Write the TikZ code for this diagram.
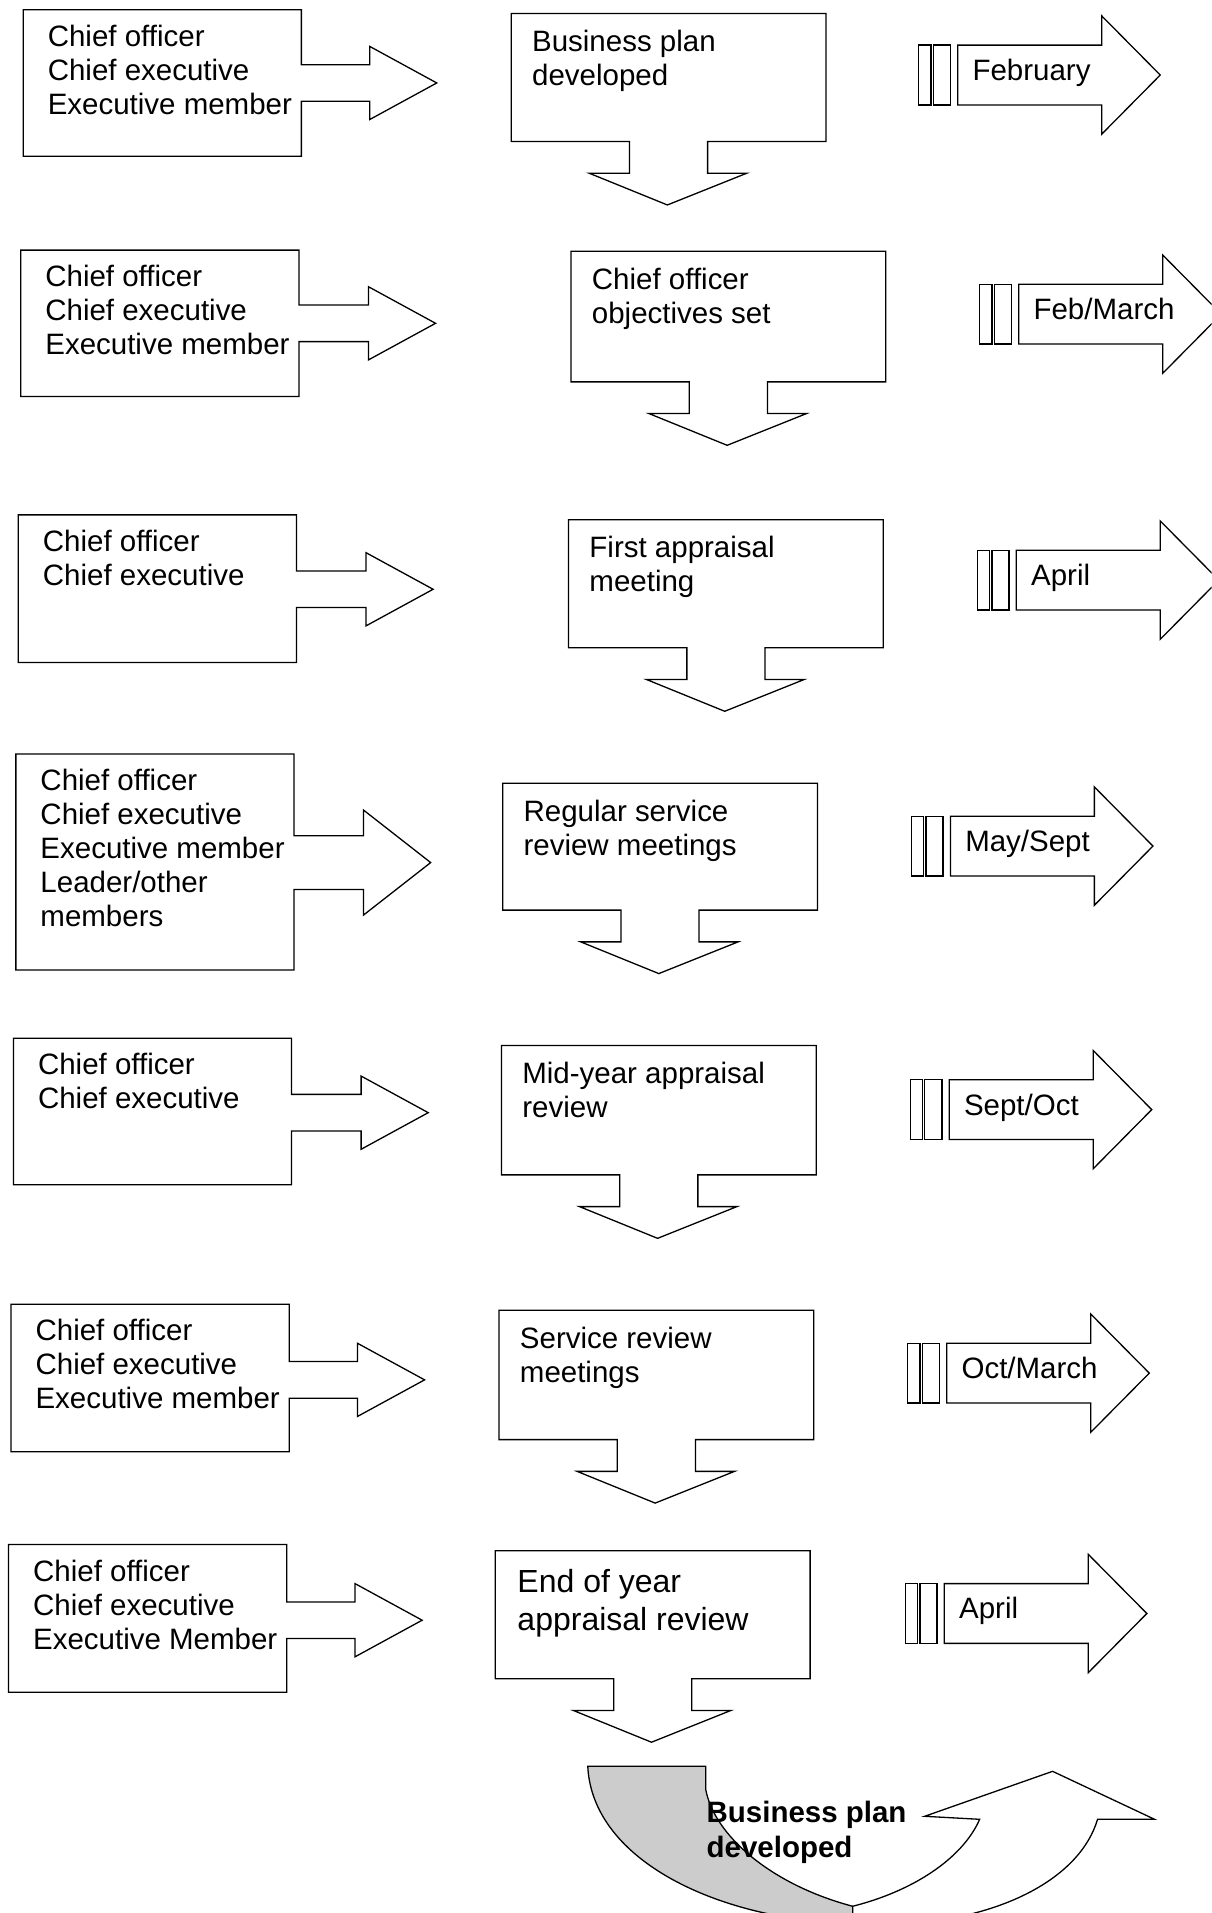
\documentclass[tikz,border=0pt]{standalone}
\usepackage{fontspec}
\setmainfont{Liberation Sans}
\tikzset{
  shp/.style={draw=black, line width=1.3pt, fill=white, line join=miter},
  lbl/.style={anchor=base west, inner sep=0pt, font=\fontsize{29.5}{34}\selectfont, align=left},
  bigl/.style={anchor=base west, inner sep=0pt, font=\fontsize{32}{38}\selectfont, align=left},
  boldl/.style={anchor=base west, inner sep=0pt, font=\bfseries\fontsize{29.5}{35}\selectfont, align=left},
}
% left callout: L R T B cy stemhalf headhalf tipx
\newcommand{\lcall}[8]{\draw[shp] (#1,#3) -- (#2,#3) -- (#2,#5-#6) -- (#8-55,#5-#6) -- (#8-55,#5-#7) -- (#8,#5) -- (#8-55,#5+#7) -- (#8-55,#5+#6) -- (#2,#5+#6) -- (#2,#4) -- (#1,#4) -- cycle;}
% middle down callout: L T B
\newcommand{\mcall}[3]{\draw[shp] (#1,#2) -- (#1+258,#2) -- (#1+258,#3) -- (#1+161,#3) -- (#1+161,#3+26) -- (#1+193,#3+26) -- (#1+128,#3+52) -- (#1+64,#3+26) -- (#1+97,#3+26) -- (#1+97,#3) -- (#1,#3) -- cycle;}
% right striped arrow: L T
\newcommand{\rarrow}[2]{\draw[shp] (#1-32,#2) rectangle (#1-22,#2+49);
  \draw[shp] (#1-20,#2) rectangle (#1-6,#2+49);
  \draw[shp] (#1,#2) -- (#1+118,#2) -- (#1+118,#2-24) -- (#1+166,#2+24.5) -- (#1+118,#2+73) -- (#1+118,#2+49) -- (#1,#2+49) -- cycle;}
\begin{document}
\begin{tikzpicture}[x=1.2205pt, y=-1.2205pt]
\useasboundingbox (0,0) rectangle (993,1568);
\clip (0,0) rectangle (993,1568);
% left callouts
\lcall{19}{247}{8}{128}{68}{15}{30}{358}
\lcall{17}{245}{205}{325}{265}{15}{30}{357}
\lcall{15}{243}{422}{543}{483}{15}{30}{355}
\lcall{13}{241}{618}{795}{707}{22}{43}{353}
\lcall{11}{239}{851}{971}{912}{15}{30}{351}
\lcall{9}{237}{1069}{1190}{1131}{15}{30}{348}
\lcall{7}{235}{1266}{1387}{1328}{15}{30}{346}
% middle callouts
\mcall{419}{11}{116}
\mcall{468}{206}{313}
\mcall{466}{426}{531}
\mcall{412}{642}{746}
\mcall{411}{857}{963}
\mcall{409}{1074}{1180}
\mcall{406}{1271}{1376}
% right arrows
\rarrow{785}{37}
\rarrow{835}{233}
\rarrow{833}{451}
\rarrow{779}{669}
\rarrow{778}{885}
\rarrow{776}{1101}
\rarrow{774}{1298}
% left texts (anchor = baseline of last line)
\node[lbl] (l1) at (39,93.7) {Chief officer\\Chief executive\\Executive member};
\node[lbl] (l2) at (37,290.7) {Chief officer\\Chief executive\\Executive member};
\node[lbl] (l3) at (35,479.9) {Chief officer\\Chief executive};
\node[lbl] (l4) at (33,759.4) {Chief officer\\Chief executive\\Executive member\\Leader/other\\members};
\node[lbl] (l5) at (31,908.9) {Chief officer\\Chief executive};
\node[lbl] (l6) at (29,1154.7) {Chief officer\\Chief executive\\Executive member};
\node[lbl] (l7) at (27,1351.7) {Chief officer\\Chief executive\\Executive Member};
% middle texts
\node[lbl] (m1) at (436,69.9) {Business plan\\developed};
\node[lbl] (m2) at (485,264.9) {Chief officer\\objectives set};
\node[lbl] (m3) at (483,484.9) {First appraisal\\meeting};
\node[lbl] (m4) at (429,700.9) {Regular service\\review meetings};
\node[lbl] (m5) at (428,915.9) {Mid-year appraisal\\review};
\node[lbl] (m6) at (426,1132.9) {Service review\\meetings};
\node[bigl] (m7) at (424,1336.1) {End of year\\appraisal review};
% right texts
\node[lbl] (r1) at (797,66) {February};
\node[lbl] (r2) at (847,262) {Feb/March};
\node[lbl] (r3) at (845,480) {April};
\node[lbl] (r4) at (791,698) {May/Sept};
\node[lbl] (r5) at (790,914) {Sept/Oct};
\node[lbl] (r6) at (788,1130) {Oct/March};
\node[lbl] (r7) at (786,1327) {April};
% bottom curved arrow (full-size pixel units)
\begin{scope}[x=1pt, y=-1pt]
\draw[shp, fill=black!20] (588,1767) .. controls (592,1850) and (690,1905) .. (800,1920) -- (853,1925) -- (853,1907) .. controls (770,1885) and (714,1835) .. (706,1790) -- (706,1767) -- cycle;
\draw[shp] (853,1907) .. controls (920,1890) and (965,1855) .. (980,1820) -- (925,1817) -- (1053,1772) -- (1155,1820) -- (1098,1820) .. controls (1080,1880) and (1000,1920) .. (900,1925) -- (853,1925) -- cycle;
\end{scope}
\node[boldl] (bp) at (579,1522.7) {Business plan\\developed};
\end{tikzpicture}
\end{document}
